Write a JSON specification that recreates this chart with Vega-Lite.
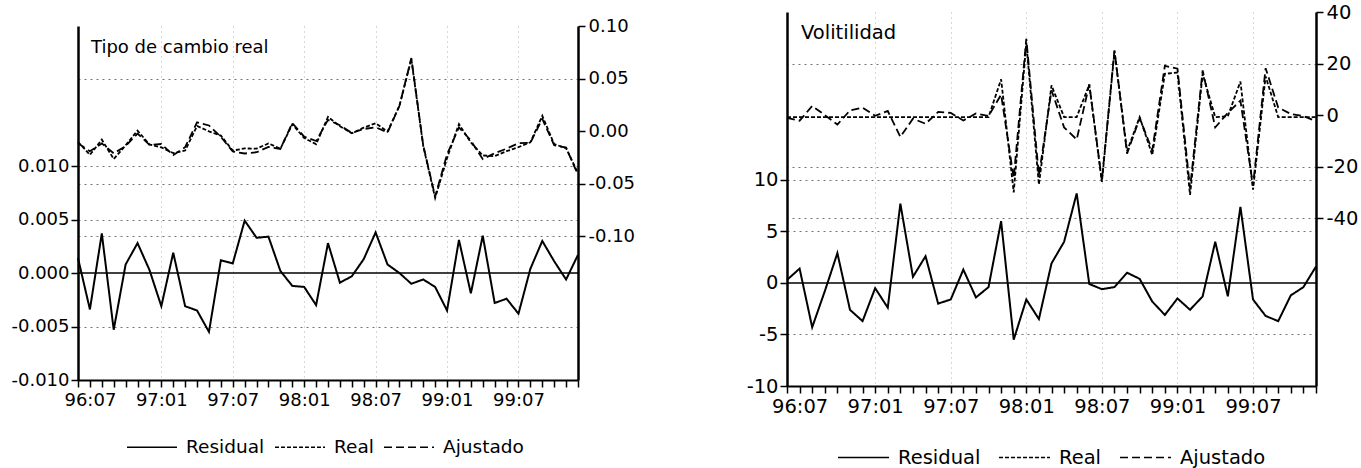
{
  "$schema": "https://vega.github.io/schema/vega-lite/v6.json",
  "background": "white",
  "padding": {"left": 10, "top": 2, "right": 5, "bottom": 2},
  "spacing": 111,
  "config": {
    "view": {"stroke": null},
    "font": "DejaVu Sans",
    "axis": {"labelFont": "DejaVu Sans", "labelColor": "black", "domainColor": "black", "tickColor": "black", "gridColor": "#666666", "title": null},
    "legend": {"labelFont": "DejaVu Sans", "labelColor": "black"}
  },
  "datasets": {
    "tcr": [
      {"periodo": "96:06", "Residual": 0.0014, "Real": -0.0103, "Ajustado": -0.0117},
      {"periodo": "96:07", "Residual": -0.0034, "Real": -0.0227, "Ajustado": -0.0193},
      {"periodo": "96:08", "Residual": 0.0037, "Real": -0.0082, "Ajustado": -0.0118},
      {"periodo": "96:09", "Residual": -0.0053, "Real": -0.0267, "Ajustado": -0.0213},
      {"periodo": "96:10", "Residual": 0.0008, "Real": -0.0136, "Ajustado": -0.0144},
      {"periodo": "96:11", "Residual": 0.0028, "Real": 0.0004, "Ajustado": -0.0024},
      {"periodo": "96:12", "Residual": 0.0003, "Real": -0.0128, "Ajustado": -0.0132},
      {"periodo": "97:01", "Residual": -0.0031, "Real": -0.0156, "Ajustado": -0.0124},
      {"periodo": "97:02", "Residual": 0.0019, "Real": -0.021, "Ajustado": -0.023},
      {"periodo": "97:03", "Residual": -0.0031, "Real": -0.0186, "Ajustado": -0.0154},
      {"periodo": "97:04", "Residual": -0.0035, "Real": 0.0048, "Ajustado": 0.0083},
      {"periodo": "97:05", "Residual": -0.0055, "Real": -0.0003, "Ajustado": 0.0053},
      {"periodo": "97:06", "Residual": 0.0012, "Real": -0.0044, "Ajustado": -0.0056},
      {"periodo": "97:07", "Residual": 0.0009, "Real": -0.0186, "Ajustado": -0.0195},
      {"periodo": "97:08", "Residual": 0.0049, "Real": -0.0166, "Ajustado": -0.0214},
      {"periodo": "97:09", "Residual": 0.0033, "Real": -0.0168, "Ajustado": -0.0202},
      {"periodo": "97:10", "Residual": 0.0034, "Real": -0.0118, "Ajustado": -0.0152},
      {"periodo": "97:11", "Residual": 0.0002, "Real": -0.0169, "Ajustado": -0.0171},
      {"periodo": "97:12", "Residual": -0.0012, "Real": 0.0064, "Ajustado": 0.0076},
      {"periodo": "98:01", "Residual": -0.0013, "Real": -0.0067, "Ajustado": -0.0054},
      {"periodo": "98:02", "Residual": -0.003, "Real": -0.0125, "Ajustado": -0.0095},
      {"periodo": "98:03", "Residual": 0.0028, "Real": 0.0134, "Ajustado": 0.0106},
      {"periodo": "98:04", "Residual": -0.0009, "Real": 0.0046, "Ajustado": 0.0055},
      {"periodo": "98:05", "Residual": -0.0003, "Real": -0.0022, "Ajustado": -0.0019},
      {"periodo": "98:06", "Residual": 0.0013, "Real": 0.0032, "Ajustado": 0.0019},
      {"periodo": "98:07", "Residual": 0.0038, "Real": 0.0074, "Ajustado": 0.0036},
      {"periodo": "98:08", "Residual": 0.0008, "Real": -0.0006, "Ajustado": -0.0014},
      {"periodo": "98:09", "Residual": 0.0, "Real": 0.024, "Ajustado": 0.024},
      {"periodo": "98:10", "Residual": -0.001, "Real": 0.0685, "Ajustado": 0.0695},
      {"periodo": "98:11", "Residual": -0.0006, "Real": -0.0143, "Ajustado": -0.0137},
      {"periodo": "98:12", "Residual": -0.0013, "Real": -0.0637, "Ajustado": -0.0624},
      {"periodo": "99:01", "Residual": -0.0035, "Real": -0.0258, "Ajustado": -0.0223},
      {"periodo": "99:02", "Residual": 0.0031, "Real": 0.0066, "Ajustado": 0.0035},
      {"periodo": "99:03", "Residual": -0.0019, "Real": -0.011, "Ajustado": -0.0091},
      {"periodo": "99:04", "Residual": 0.0035, "Real": -0.0233, "Ajustado": -0.0268},
      {"periodo": "99:05", "Residual": -0.0028, "Real": -0.0239, "Ajustado": -0.0211},
      {"periodo": "99:06", "Residual": -0.0024, "Real": -0.0192, "Ajustado": -0.0168},
      {"periodo": "99:07", "Residual": -0.0038, "Real": -0.0154, "Ajustado": -0.0116},
      {"periodo": "99:08", "Residual": 0.0004, "Real": -0.0108, "Ajustado": -0.0112},
      {"periodo": "99:09", "Residual": 0.003, "Real": 0.0145, "Ajustado": 0.0115},
      {"periodo": "99:10", "Residual": 0.0011, "Real": -0.0125, "Ajustado": -0.0135},
      {"periodo": "99:11", "Residual": -0.0006, "Real": -0.0163, "Ajustado": -0.0157},
      {"periodo": "99:12", "Residual": 0.0017, "Real": -0.0402, "Ajustado": -0.0418}
    ],
    "vol": [
      {"periodo": "96:06", "Residual": 0.3, "Real": -0.8, "Ajustado": -1.1},
      {"periodo": "96:07", "Residual": 1.4, "Real": -0.8, "Ajustado": -2.2},
      {"periodo": "96:08", "Residual": -4.3, "Real": -0.8, "Ajustado": 3.5},
      {"periodo": "96:09", "Residual": -0.8, "Real": -0.8, "Ajustado": 0.0},
      {"periodo": "96:10", "Residual": 2.9, "Real": -0.8, "Ajustado": -3.7},
      {"periodo": "96:11", "Residual": -2.6, "Real": -0.8, "Ajustado": 1.8},
      {"periodo": "96:12", "Residual": -3.7, "Real": -0.8, "Ajustado": 2.9},
      {"periodo": "97:01", "Residual": -0.5, "Real": -0.8, "Ajustado": -0.3},
      {"periodo": "97:02", "Residual": -2.4, "Real": -0.8, "Ajustado": 1.6},
      {"periodo": "97:03", "Residual": 7.7, "Real": -0.8, "Ajustado": -8.5},
      {"periodo": "97:04", "Residual": 0.6, "Real": -0.8, "Ajustado": -1.4},
      {"periodo": "97:05", "Residual": 2.6, "Real": -0.8, "Ajustado": -3.4},
      {"periodo": "97:06", "Residual": -2.0, "Real": -0.8, "Ajustado": 1.2},
      {"periodo": "97:07", "Residual": -1.6, "Real": -0.8, "Ajustado": 0.8},
      {"periodo": "97:08", "Residual": 1.3, "Real": -0.8, "Ajustado": -2.1},
      {"periodo": "97:09", "Residual": -1.4, "Real": -0.8, "Ajustado": 0.6},
      {"periodo": "97:10", "Residual": -0.4, "Real": -0.8, "Ajustado": -0.4},
      {"periodo": "97:11", "Residual": 6.0, "Real": 13.9, "Ajustado": 7.9},
      {"periodo": "97:12", "Residual": -5.5, "Real": -30.0, "Ajustado": -24.5},
      {"periodo": "98:01", "Residual": -1.6, "Real": 28.0, "Ajustado": 29.6},
      {"periodo": "98:02", "Residual": -3.5, "Real": -27.0, "Ajustado": -23.5},
      {"periodo": "98:03", "Residual": 1.9, "Real": 11.5, "Ajustado": 9.6},
      {"periodo": "98:04", "Residual": 4.0, "Real": -0.8, "Ajustado": -4.8},
      {"periodo": "98:05", "Residual": 8.7, "Real": -0.8, "Ajustado": -9.5},
      {"periodo": "98:06", "Residual": -0.1, "Real": 11.8, "Ajustado": 11.9},
      {"periodo": "98:07", "Residual": -0.6, "Real": -26.0, "Ajustado": -25.4},
      {"periodo": "98:08", "Residual": -0.4, "Real": 24.7, "Ajustado": 25.1},
      {"periodo": "98:09", "Residual": 1.0, "Real": -14.0, "Ajustado": -15.0},
      {"periodo": "98:10", "Residual": 0.4, "Real": -0.8, "Ajustado": -1.2},
      {"periodo": "98:11", "Residual": -1.8, "Real": -15.5, "Ajustado": -13.7},
      {"periodo": "98:12", "Residual": -3.1, "Real": 16.0, "Ajustado": 19.1},
      {"periodo": "99:01", "Residual": -1.5, "Real": 16.5, "Ajustado": 18.0},
      {"periodo": "99:02", "Residual": -2.6, "Real": -31.0, "Ajustado": -28.4},
      {"periodo": "99:03", "Residual": -1.3, "Real": 16.0, "Ajustado": 17.3},
      {"periodo": "99:04", "Residual": 4.0, "Real": -0.8, "Ajustado": -4.8},
      {"periodo": "99:05", "Residual": -1.3, "Real": -0.5, "Ajustado": 0.8},
      {"periodo": "99:06", "Residual": 7.4, "Real": 13.0, "Ajustado": 5.6},
      {"periodo": "99:07", "Residual": -1.6, "Real": -29.0, "Ajustado": -27.4},
      {"periodo": "99:08", "Residual": -3.2, "Real": 15.0, "Ajustado": 18.2},
      {"periodo": "99:09", "Residual": -3.7, "Real": -0.8, "Ajustado": 2.9},
      {"periodo": "99:10", "Residual": -1.2, "Real": -0.8, "Ajustado": 0.4},
      {"periodo": "99:11", "Residual": -0.4, "Real": -0.8, "Ajustado": -0.4},
      {"periodo": "99:12", "Residual": 1.6, "Real": -0.8, "Ajustado": -2.4}
    ]
  },
  "hconcat": [
    {
      "spacing": 0,
      "vconcat": [
        {
          "width": 500,
          "height": 5,
          "view": {"fill": "white", "stroke": null},
          "data": {"values": []},
          "mark": "point"
        },
        {
          "width": 500,
          "height": 354,
          "data": {"name": "tcr"},
          "layer": [
            {
              "data": {"values": [{}]},
              "mark": {"type": "rule", "color": "black", "strokeWidth": 1.5},
              "encoding": {"y": {"datum": 0, "type": "quantitative", "scale": {"domain": [-0.01, 0.0231], "nice": false, "zero": false}, "axis": null}}
            },
            {
              "transform": [{"fold": ["Residual", "Real", "Ajustado"], "as": ["serie", "valor"]}, {"filter": "datum.serie == 'Residual'"}],
              "mark": {"type": "line", "color": "black", "strokeWidth": 2},
              "encoding": {
                "x": {"field": "periodo", "type": "ordinal", "scale": {"type": "point", "padding": 0},
                  "axis": {"labelAngle": 0, "labelFontSize": 18, "labelPadding": 4, "domainWidth": 2, "tickSize": 7, "tickWidth": 1.5,
                    "labelExpr": "indexof(['96:07','97:01','97:07','98:01','98:07','99:01','99:07'], datum.value) >= 0 ? datum.value : ''",
                    "grid": true, "gridDash": [1, 4], "gridWidth": 1,
                    "gridOpacity": {"condition": {"test": "indexof(['97:01','97:07','98:01','98:07','99:01','99:07'], datum.value) >= 0", "value": 0.5}, "value": 0}}},
                "y": {"field": "valor", "type": "quantitative", "scale": {"domain": [-0.01, 0.0231], "nice": false, "zero": false},
                  "axis": {"orient": "left", "values": [-0.01, -0.005, 0, 0.005, 0.01], "labelExpr": "replace(format(datum.value, '.3f'), '\u2212', '-')",
                    "labelFontSize": 18, "labelPadding": 2, "domainWidth": 2.5, "tickSize": 7, "tickWidth": 1.5,
                    "grid": true, "gridDash": [2, 4], "gridWidth": 1,
                    "gridOpacity": {"condition": {"test": "datum.value == 0", "value": 0}, "value": 0.9}}},
                "strokeDash": {"field": "serie", "type": "nominal",
                  "scale": {"domain": ["Residual", "Real", "Ajustado"], "range": [[1, 0], [4, 2], [8, 4]]},
                  "legend": {"title": null, "orient": "none", "direction": "horizontal", "legendX": 48, "legendY": 409,
                    "symbolType": "stroke", "symbolSize": 2500, "symbolStrokeWidth": 1.6, "symbolStrokeColor": "black",
                    "labelFontSize": 18.5, "labelOffset": 8, "columnPadding": 6}}
              }
            },
            {
              "transform": [{"fold": ["Residual", "Real", "Ajustado"], "as": ["serie", "valor"]}, {"filter": "datum.serie != 'Residual'"}],
              "mark": {"type": "line", "color": "black", "strokeWidth": 1.8},
              "encoding": {
                "x": {"field": "periodo", "type": "ordinal"},
                "y": {"field": "valor", "type": "quantitative", "scale": {"domain": [-0.2371, 0.1], "nice": false, "zero": false},
                  "axis": {"orient": "right", "values": [-0.1, -0.05, 0, 0.05, 0.1], "labelExpr": "replace(format(datum.value, '.2f'), '\u2212', '-')",
                    "labelFontSize": 18, "labelPadding": 3, "domainWidth": 2.5, "tickSize": 7, "tickWidth": 1.5,
                    "grid": true, "gridDash": [2, 4], "gridWidth": 1,
                    "gridOpacity": {"condition": {"test": "datum.value == 0 || datum.value > 0.09", "value": 0}, "value": 0.9}}},
                "strokeDash": {"field": "serie", "type": "nominal"}
              }
            },
            {
              "data": {"values": [{}]},
              "mark": {"type": "text", "text": "Tipo de cambio real", "align": "left", "baseline": "alphabetic", "dx": 13, "dy": 27, "fontSize": 18, "font": "DejaVu Sans", "color": "black"},
              "encoding": {
                "x": {"datum": "96:06", "type": "ordinal"},
                "y": {"datum": 0.0231, "type": "quantitative", "scale": {"domain": [-0.01, 0.0231], "nice": false, "zero": false}, "axis": null}
              }
            }
          ],
          "resolve": {"scale": {"y": "independent"}}
        }
      ]
    },
    {
      "width": 529,
      "height": 374,
      "data": {"name": "vol"},
      "layer": [
        {
          "data": {"values": [{}]},
          "mark": {"type": "rule", "color": "black", "strokeWidth": 1.5},
          "encoding": {"y": {"datum": 0, "type": "quantitative", "scale": {"domain": [-10, 26.31], "nice": false, "zero": false}, "axis": null}}
        },
        {
          "transform": [{"fold": ["Residual", "Real", "Ajustado"], "as": ["serie", "valor"]}, {"filter": "datum.serie == 'Residual'"}],
          "mark": {"type": "line", "color": "black", "strokeWidth": 2},
          "encoding": {
            "x": {"field": "periodo", "type": "ordinal", "scale": {"type": "point", "padding": 0},
              "axis": {"labelAngle": 0, "labelFontSize": 19.5, "labelPadding": 4, "domainWidth": 2, "tickSize": 7, "tickWidth": 1.5,
                "labelExpr": "indexof(['96:07','97:01','97:07','98:01','98:07','99:01','99:07'], datum.value) >= 0 ? datum.value : ''",
                "grid": true, "gridDash": [1, 4], "gridWidth": 1,
                "gridOpacity": {"condition": {"test": "indexof(['97:01','97:07','98:01','98:07','99:01','99:07'], datum.value) >= 0", "value": 0.5}, "value": 0}}},
            "y": {"field": "valor", "type": "quantitative", "scale": {"domain": [-10, 26.31], "nice": false, "zero": false},
              "axis": {"orient": "left", "values": [-10, -5, 0, 5, 10], "labelExpr": "replace(format(datum.value, 'd'), '\u2212', '-')",
                "labelFontSize": 19.5, "labelPadding": 2, "domainWidth": 2.5, "tickSize": 7, "tickWidth": 1.5,
                "grid": true, "gridDash": [2, 4], "gridWidth": 1,
                "gridOpacity": {"condition": {"test": "datum.value == 0", "value": 0}, "value": 0.9}}},
            "strokeDash": {"field": "serie", "type": "nominal",
              "scale": {"domain": ["Residual", "Real", "Ajustado"], "range": [[1, 0], [4, 2], [8, 4]]},
              "legend": {"title": null, "orient": "none", "direction": "horizontal", "legendX": 50, "legendY": 419,
                "symbolType": "stroke", "symbolSize": 2600, "symbolStrokeWidth": 1.6, "symbolStrokeColor": "black",
                "labelFontSize": 19.5, "labelOffset": 8, "columnPadding": 14}}
          }
        },
        {
          "transform": [{"fold": ["Residual", "Real", "Ajustado"], "as": ["serie", "valor"]}, {"filter": "datum.serie != 'Residual'"}],
          "mark": {"type": "line", "color": "black", "strokeWidth": 1.8},
          "encoding": {
            "x": {"field": "periodo", "type": "ordinal"},
            "y": {"field": "valor", "type": "quantitative", "scale": {"domain": [-105.2, 40], "nice": false, "zero": false},
              "axis": {"orient": "right", "values": [-40, -20, 0, 20, 40], "labelExpr": "replace(format(datum.value, 'd'), '\u2212', '-')",
                "labelFontSize": 19.5, "labelPadding": 3, "domainWidth": 2.5, "tickSize": 7, "tickWidth": 1.5,
                "grid": true, "gridDash": [2, 4], "gridWidth": 1,
                "gridOpacity": {"condition": {"test": "datum.value == 0 || datum.value > 39", "value": 0}, "value": 0.9}}},
            "strokeDash": {"field": "serie", "type": "nominal"}
          }
        },
        {
          "data": {"values": [{}]},
          "mark": {"type": "text", "text": "Volitilidad", "align": "left", "baseline": "alphabetic", "dx": 14, "dy": 27, "fontSize": 19.5, "font": "DejaVu Sans", "color": "black"},
          "encoding": {
            "x": {"datum": "96:06", "type": "ordinal"},
            "y": {"datum": 26.31, "type": "quantitative", "scale": {"domain": [-10, 26.31], "nice": false, "zero": false}, "axis": null}
          }
        }
      ],
      "resolve": {"scale": {"y": "independent"}}
    }
  ],
  "resolve": {"scale": {"x": "independent", "y": "independent", "strokeDash": "independent"}, "legend": {"strokeDash": "independent"}}
}
